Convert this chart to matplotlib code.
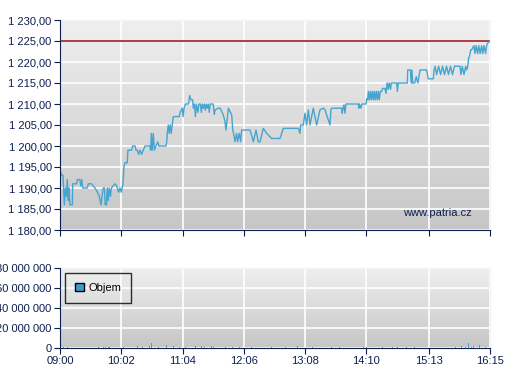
import numpy as np
import matplotlib
matplotlib.use('Agg')
from matplotlib import pyplot as plt
from matplotlib.colors import LinearSegmentedColormap
from matplotlib.patches import Patch

plt.rcParams['font.family'] = ['Liberation Sans', 'DejaVu Sans']

# minutes after 09:00
price_t = [0, 2, 3, 4.4, 5.4, 6.4, 7.4, 8.4, 9, 10, 12.5, 12.8, 16.8, 17.5, 20, 21, 22, 23,
           27.6, 28.6, 32, 35.4, 37.8, 39.8, 41.5, 42.5, 43.8, 45, 45.7, 47, 47.8, 48.8,
           49.7, 51, 52, 55.6, 57.3, 59.3, 60.6, 62, 63.7, 64.7, 65.7, 68, 68.7, 72.4,
           73.4, 75.9, 76.9, 78.2, 79.6, 81, 82.6, 84.3, 86, 91, 91.7, 92.4, 93.3, 94.4,
           95.5, 97, 99, 100, 107.2, 108, 108.5, 109.5, 110.5, 111.5, 112.5, 113.5, 114.6,
           120.7, 121.5, 123.7, 124.5, 125.5, 126.8, 130, 131.2, 132.5, 134.2, 134.8, 136,
           137, 138, 139.5, 140.5, 142, 143, 144, 145, 146, 147, 148, 149, 150, 151, 152,
           155, 156, 157, 160, 162, 165.2, 166.9, 167.9, 169, 170.3, 173.7, 174.7, 176,
           177, 178.7, 179.7, 181.4, 182.8, 183.8, 192.2, 193.9, 195.6, 198.3, 200.6,
           202.3, 205.7, 209.1, 214.1, 222.6, 225.9, 241.1, 242.8, 243.5, 246.1, 247.8,
           249.5, 251.2, 252.9, 256.2, 259.7, 263, 266.4, 268.1, 273.1, 274.1, 274.8,
           285, 285.5, 286.3, 287.3, 288.3, 289.3, 301.8, 302.3, 302.8, 304.5, 305.2,
           305.9, 309.6, 310.3, 311.3, 311.9, 313, 314, 315, 316, 317, 318, 319, 320, 321,
           322, 323, 324, 325.4, 326.4, 328.8, 329.8, 330.5, 331.1, 332.1, 333.1, 334.5,
           335.1, 340.6, 341.3, 342.2, 351.4, 351.7, 354.5, 355.3, 356, 356.8, 358.8,
           360.4, 362, 364.2, 370.9, 372.5, 377.7, 378.4, 379.4, 381, 383, 385, 387, 389,
           391, 393, 395, 397, 399, 401.3, 404.6, 405.6, 407, 408.7, 410.4, 411.4, 412.5,
           413.4, 414.4, 415.5, 416.4, 418.7, 419.8, 421, 422.5, 423.6, 425, 426.5, 427.6,
           429, 430.5, 431.6, 432.3, 435]
price = [1194, 1193, 1193, 1186, 1190, 1188, 1192, 1187, 1190, 1186, 1186, 1191, 1191, 1192,
         1192, 1190.5, 1192, 1190, 1190, 1191, 1191, 1190, 1189, 1188, 1186, 1188, 1190,
         1190, 1186, 1186, 1190, 1187, 1190, 1188, 1190, 1191, 1190.5, 1189, 1190, 1189,
         1191, 1195, 1196, 1196, 1199, 1199, 1200, 1200, 1199, 1199, 1198, 1199, 1198,
         1199, 1200, 1200, 1199, 1203, 1199, 1203, 1199, 1200, 1201, 1200, 1200, 1201,
         1203, 1205, 1203, 1205, 1203, 1205, 1207, 1207, 1208, 1209, 1207, 1209, 1210,
         1210, 1212, 1211, 1211, 1209, 1210, 1207, 1210, 1208, 1210, 1210, 1208, 1210,
         1209, 1210, 1208.5, 1210, 1209, 1210, 1208, 1210, 1210, 1207.5, 1208.6, 1209,
         1209, 1207.4, 1205.8, 1203.8, 1206, 1209, 1207.4, 1204, 1202.5, 1201, 1203, 1201,
         1203, 1201, 1203.8, 1203.8, 1202.5, 1201, 1203.8, 1201, 1201, 1204.2, 1203,
         1201.8, 1201.8, 1204.2, 1204.2, 1203, 1205, 1205, 1207.8, 1205, 1208.6, 1205,
         1209, 1205, 1208.6, 1209, 1208.6, 1205, 1208.6, 1209, 1209, 1207.8, 1209, 1209.8,
         1207.8, 1210, 1210, 1209, 1210, 1209, 1210, 1210, 1210, 1211.3, 1211, 1213, 1211,
         1213, 1211, 1213, 1211, 1213, 1211, 1213, 1211, 1213, 1211, 1213, 1213, 1213.7,
         1213.7, 1212.5, 1214, 1215, 1213.5, 1215, 1213.5, 1215, 1215, 1213, 1215, 1215,
         1218.1, 1218.1, 1215, 1218.1, 1215, 1215, 1216.5, 1215, 1218.1, 1218.1, 1216,
         1216, 1218.1, 1219, 1217, 1219, 1217, 1219, 1217, 1219, 1217, 1219, 1217, 1219,
         1219, 1219, 1217, 1219, 1217, 1219, 1218.1, 1219, 1220.9, 1221.5, 1222.9, 1222.9,
         1223.9, 1222, 1223.9, 1222, 1223.9, 1222, 1223.9, 1222, 1223.9, 1222, 1223.9,
         1224.4, 1225]

vol_t = [4, 8, 39, 44, 46, 49, 50, 64, 78, 83, 91, 93, 100, 108, 115, 121, 127, 137, 143,
         146, 153, 155, 167, 175, 182, 194, 214, 228, 240, 255, 275, 283, 307, 310, 326,
         336, 341, 351, 359, 400, 406, 410, 413, 416, 418, 424, 430]
vol = [1.0, 0.8, 0.8, 0.8, 1.0, 1.0, 1.0, 0.8, 2.5, 0.8, 2.0, 5.0, 0.8, 3.0, 2.0, 0.8, 0.8,
       2.0, 2.0, 1.0, 2.0, 0.8, 1.0, 0.8, 0.8, 0.8, 0.8, 0.8, 2.0, 0.8, 0.8, 0.8, 0.8, 1.0,
       0.8, 0.8, 0.8, 0.8, 0.8, 0.8, 2.0, 1.0, 5.0, 1.5, 2.5, 3.0, 0.8]  # millions

tick_t = [0, 62, 124, 186, 248, 310, 373, 435]
tick_labels = ['09:00', '10:02', '11:04', '12:06', '13:08', '14:10', '15:13', '16:15']
ref_level = 1225

navy = '#0c1f4f'
blue = '#46a5d0'
bg = LinearSegmentedColormap.from_list('bg', ['#efefef', '#c6c6c6'])
grad = np.linspace(0, 1, 256).reshape(-1, 1)

fig = plt.figure(figsize=(5.07, 3.80), dpi=100)
ax = fig.add_axes([60 / 507, 1 - 230 / 380, 430 / 507, 210 / 380])
ax2 = fig.add_axes([60 / 507, 1 - 348 / 380, 430 / 507, 80 / 380])

ax.imshow(grad, cmap=bg, extent=[0, 435, 1180, 1230], aspect='auto', zorder=0)
ax.plot(price_t, price, color=blue, lw=1, zorder=4)
ax.axhline(ref_level, color='#a02020', lw=1.2, zorder=3)
ax.set_xlim(0, 435)
ax.set_ylim(1180, 1230)
ax.set_yticks(np.arange(1180, 1231, 5))
ax.set_yticklabels([f'{v:,.2f}'.replace(',', ' ').replace('.', ',') for v in np.arange(1180, 1231, 5)])
ax.set_xticks(tick_t)
ax.set_xticklabels([])
ax.text(0.798, 0.08, 'www.patria.cz', transform=ax.transAxes, color=navy, fontsize=8,
        ha='left', va='center', zorder=4)

ax2.imshow(grad, cmap=bg, extent=[0, 435, 0, 80], aspect='auto', zorder=0)
ax2.bar(vol_t, vol, width=1, color=blue, zorder=4)
ax2.set_xlim(0, 435)
ax2.set_ylim(0, 80)
ax2.set_yticks([0, 20, 40, 60, 80])
ax2.set_yticklabels([f'{v * 1000000:,}'.replace(',', ' ') for v in [0, 20, 40, 60, 80]])
ax2.set_xticks(tick_t)
ax2.set_xticklabels(tick_labels)
leg = ax2.legend(handles=[Patch(facecolor='#3a9fcc', edgecolor='black', label='Objem')],
                 loc='upper left', bbox_to_anchor=(0.012, 0.94), frameon=True, fancybox=False,
                 handlelength=0.8, handleheight=0.8, fontsize=8, borderpad=0.9,
                 handletextpad=0.4, borderaxespad=0)
leg.get_frame().set_edgecolor('black')
leg.get_frame().set_facecolor('none')
leg.get_frame().set_linewidth(1)
for t in leg.get_texts():
    t.set_color('black')

for a in (ax, ax2):
    a.grid(True, color='white', lw=1.2)
    a.set_axisbelow(True)
    for s in ('top', 'right'):
        a.spines[s].set_color('#f4f4f4')
    for s in ('left', 'bottom'):
        a.spines[s].set_color(navy)
        a.spines[s].set_zorder(5)
    a.tick_params(direction='out', length=4, color=navy, labelcolor=navy, labelsize=8, pad=2)

plt.savefig('out.png', dpi=100)
